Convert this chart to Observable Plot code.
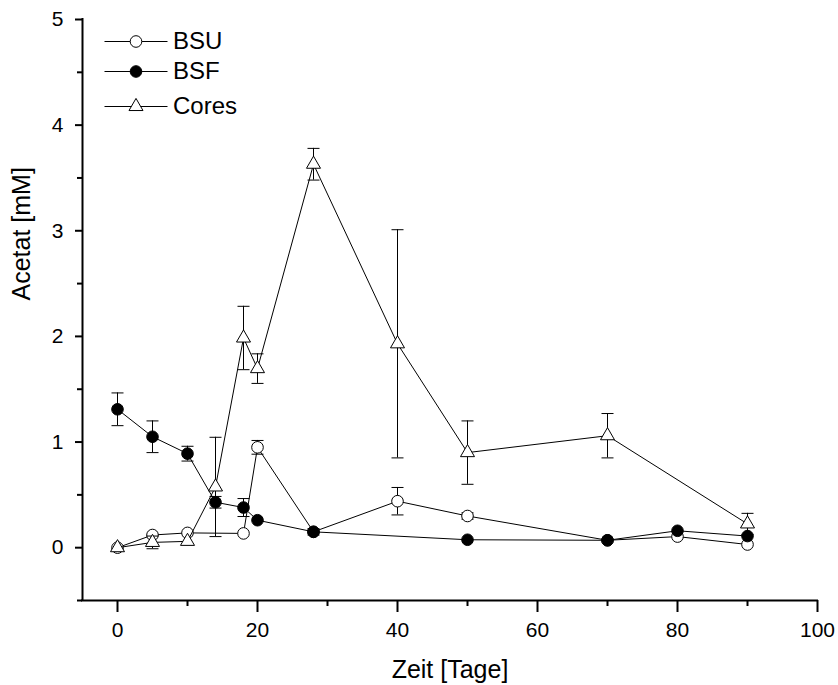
<!DOCTYPE html>
<html>
<head>
<meta charset="utf-8">
<script src="https://cdn.jsdelivr.net/npm/d3@7"></script>
<script src="https://cdn.jsdelivr.net/npm/@observablehq/plot@0.6"></script>
<style>
  body { margin: 0; background: #fff; }
  #chart svg { display: block; }
</style>
</head>
<body>
<div id="chart"></div>
<script>
// Acetate concentration over incubation time (days), mean ± error
const seriesNames = ["BSU", "BSF", "Cores"];

const bsuDays   = [0, 5, 10, 18, 20, 28, 40, 50, 70, 80, 90];
const bsuValues = [0, 0.12, 0.14, 0.135, 0.95, 0.15, 0.44, 0.30, 0.07, 0.105, 0.03];
const bsuErrors = [0, 0, 0, 0, 0.065, 0, 0.13, 0.03, 0, 0, 0];

const bsfDays   = [0, 5, 10, 14, 18, 20, 28, 50, 70, 80, 90];
const bsfValues = [1.31, 1.05, 0.89, 0.43, 0.38, 0.26, 0.15, 0.075, 0.07, 0.16, 0.11];
const bsfErrors = [0.155, 0.15, 0.07, 0.055, 0.085, 0, 0.03, 0, 0, 0, 0];

const coresDays   = [0, 5, 10, 14, 18, 20, 28, 40, 50, 70, 90];
const coresValues = [0, 0.05, 0.06, 0.575, 1.985, 1.695, 3.63, 1.93, 0.90, 1.06, 0.225];
const coresErrors = [0, 0.06, 0, 0.47, 0.30, 0.14, 0.15, 1.08, 0.30, 0.21, 0.10];

const xTicks = [0, 20, 40, 60, 80, 100];
const xMinorTicks = [10, 30, 50, 70, 90];
const yTicks = [0, 1, 2, 3, 4, 5];
const yMinorTicks = [-0.5, 0.5, 1.5, 2.5, 3.5, 4.5];
const xDomain = [-5, 100];
const yDomain = [-0.5, 5];

const xLabel = "Zeit [Tage]";
const yLabel = "Acetat [mM]";

// table per series
const toRows = (days, values, errors) =>
  days.map((day, i) => ({day, value: values[i], err: errors[i]}));

const series = [
  {name: seriesNames[0], rows: toRows(bsuDays, bsuValues, bsuErrors), symbol: "circle", r: 5.8, fill: "white"},
  {name: seriesNames[1], rows: toRows(bsfDays, bsfValues, bsfErrors), symbol: "circle", r: 5.8, fill: "black"},
  {name: seriesNames[2], rows: toRows(coresDays, coresValues, coresErrors), symbol: "triangle", r: 5.2, fill: "white"}
];

// horizontal cap drawn at the ends of each error bar
const capSymbol = {draw(ctx) { ctx.moveTo(-6, 0); ctx.lineTo(6, 0); }};
// short line behind each legend symbol
const legendLine = {draw(ctx) { ctx.moveTo(-31.5, 0); ctx.lineTo(31.5, 0); }};
const legendRowY = [22, 52, 87];

const plain = d => String(d);

const marks = [
  Plot.ruleY([yDomain[0]], {stroke: "black", strokeWidth: 2, strokeLinecap: "square"}),
  Plot.ruleX([xDomain[0]], {stroke: "black", strokeWidth: 2, strokeLinecap: "square"}),
  Plot.axisX({ticks: xTicks, tickFormat: plain, tickSize: 12, tickPadding: 10, fontSize: 21, strokeWidth: 2, label: null}),
  Plot.axisX({ticks: xMinorTicks, tickSize: 6, strokeWidth: 2, text: null, label: null}),
  Plot.axisY({ticks: yTicks, tickFormat: plain, tickSize: 7, tickPadding: 12, fontSize: 21, strokeWidth: 2, label: null}),
  Plot.axisY({ticks: yMinorTicks, tickSize: 5, strokeWidth: 2, text: null, label: null}),
  Plot.text([xLabel], {frameAnchor: "bottom", dy: 69, text: d => d, fontSize: 25, lineAnchor: "middle"}),
  Plot.text([yLabel], {frameAnchor: "left", dx: -61, dy: -9.5, rotate: -90, text: d => d, fontSize: 25, lineAnchor: "middle"})
];

for (const s of series) {
  const withErr = s.rows.filter(d => d.err > 0);
  marks.push(
    Plot.line(s.rows, {x: "day", y: "value", stroke: "black", strokeWidth: 1}),
    Plot.ruleX(withErr, {x: "day", y1: d => d.value - d.err, y2: d => d.value + d.err, stroke: "black", strokeWidth: 1}),
    Plot.dot(withErr, {x: "day", y: d => d.value + d.err, symbol: capSymbol, r: 1, fill: "none", stroke: "black", strokeWidth: 1}),
    Plot.dot(withErr, {x: "day", y: d => d.value - d.err, symbol: capSymbol, r: 1, fill: "none", stroke: "black", strokeWidth: 1}),
    Plot.dot(s.rows, {x: "day", y: "value", symbol: s.symbol, r: s.r, fill: s.fill, stroke: "black", strokeWidth: 1})
  );
}

// legend in the upper left corner of the frame
series.forEach((s, i) => {
  marks.push(
    Plot.dot([s], {frameAnchor: "top-left", dx: 53.5, dy: legendRowY[i], symbol: legendLine, r: 1, fill: "none", stroke: "black", strokeWidth: 1}),
    Plot.dot([s], {frameAnchor: "top-left", dx: 53.5, dy: legendRowY[i], symbol: s.symbol, r: s.r, fill: s.fill, stroke: "black", strokeWidth: 1}),
    Plot.text([s], {frameAnchor: "top-left", dx: 90.5, dy: legendRowY[i], text: d => d.name, textAnchor: "start", lineAnchor: "middle", fontSize: 24})
  );
});

const chart = Plot.plot({
  width: 838,
  height: 685,
  marginLeft: 82,
  marginRight: 21,
  marginTop: 19,
  marginBottom: 85,
  x: {domain: xDomain},
  y: {domain: yDomain},
  style: {fontFamily: "'Liberation Sans', Arial, sans-serif", color: "black", background: "white", overflow: "visible"},
  marks
});

document.getElementById("chart").append(chart);
</script>
</body>
</html>
